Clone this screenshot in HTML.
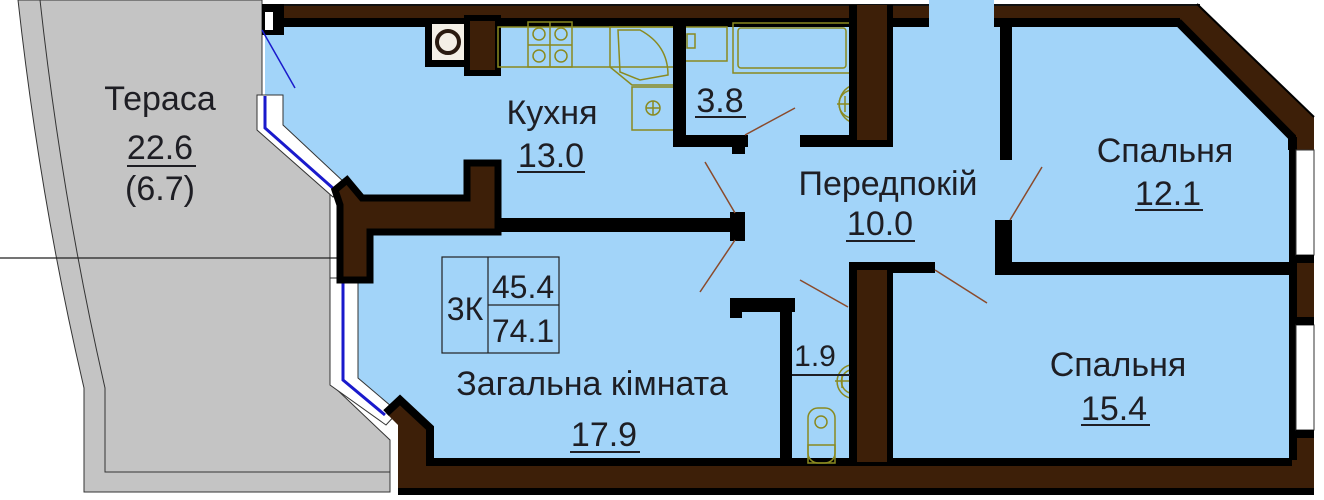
<!DOCTYPE html>
<html><head><meta charset="utf-8"><style>
html,body{margin:0;padding:0;background:#fff;width:1324px;height:500px;overflow:hidden}
svg{display:block}
text{font-family:"Liberation Sans",sans-serif;fill:#1e1e24}
</style></head><body>
<svg width="1324" height="500" viewBox="0 0 1324 500" xmlns="http://www.w3.org/2000/svg">
<path d="M18,0 L262,0 L262,130 L330,192 L330,383 L390,440 L390,492 L84,492 L84,388 Q40,200 18,0 Z" fill="#c4c4c4" stroke="#333" stroke-width="1"/>
<path d="M40,0 Q62,200 105,388 L105,472 L390,472" fill="none" stroke="#333" stroke-width="1"/>
<line x1="0" y1="258" x2="442" y2="258" stroke="#222" stroke-width="1.2"/>
<polygon points="265,20 1200,20 1295,137 1295,465 400,465 400,412 345,372 345,280 342,205 333,192 265,132" fill="#a2d4f9"/>
<rect x="929" y="0" width="65" height="25" fill="#a2d4f9"/>
<polygon points="257,95 283,95 283,125 345,183 333,197 257,130" fill="#fff" stroke="#333" stroke-width="1"/>
<polyline points="265,96 265,128 335,190" fill="none" stroke="#1a1acc" stroke-width="3"/>
<polygon points="330,278 358,278 358,378 398,412 386,425 330,385" fill="#fff" stroke="#333" stroke-width="1"/>
<polyline points="343,280 343,380 385,415" fill="none" stroke="#1a1acc" stroke-width="3"/>
<rect x="262" y="4" width="667" height="16" fill="#3d1f08"/>
<rect x="994" y="4" width="206" height="16" fill="#3d1f08"/>
<line x1="262" y1="5" x2="929" y2="5" stroke="#111" stroke-width="2"/>
<line x1="994" y1="5" x2="1200" y2="5" stroke="#111" stroke-width="2"/>
<rect x="265" y="18" width="664" height="9" fill="#000"/>
<rect x="994" y="18" width="190" height="9" fill="#000"/>
<polygon points="1197,4 1314,117 1314,140 1289,140 1289,137 1180,27 1180,18 1197,18" fill="#3d1f08"/>
<polyline points="1178,22 1292,137 1292,150" fill="none" stroke="#000" stroke-width="8"/>
<line x1="1197" y1="4" x2="1314" y2="117" stroke="#000" stroke-width="2"/>
<rect x="262" y="4" width="22" height="31" fill="#000"/>
<rect x="265" y="12" width="8" height="18" fill="#fff"/>
<rect x="1289" y="137" width="25" height="358" fill="#3d1f08"/>
<rect x="1289" y="137" width="8" height="358" fill="#000"/>
<rect x="1296" y="150" width="18" height="105" fill="#fff" stroke="#333" stroke-width="1"/>
<rect x="1296" y="325" width="18" height="105" fill="#fff" stroke="#333" stroke-width="1"/>
<rect x="1296" y="255" width="18" height="8" fill="#000"/>
<rect x="1296" y="317" width="18" height="8" fill="#000"/>
<rect x="1296" y="430" width="18" height="8" fill="#000"/>
<polygon points="398,400 386,413 398,425 398,495 1314,495 1314,460 429,460 429,427" fill="#3d1f08"/>
<polyline points="386,413 400,400 430,428 430,462 1292,462" fill="none" stroke="#000" stroke-width="8"/>
<rect x="398" y="488" width="916" height="7" fill="#000"/>
<polygon points="335,190 347,180 362,198 467,198 467,163 498,163 498,218 498,232 370,232 370,280 340,280 340,205" fill="#3d1f08" stroke="#000" stroke-width="7" stroke-linejoin="miter"/>
<rect x="497" y="218" width="245" height="14" fill="#000"/>
<rect x="730" y="212" width="15" height="29" fill="#000"/>
<rect x="425" y="20" width="45" height="47" fill="#000"/>
<rect x="432" y="24" width="32" height="36" fill="#f4efe6"/>
<circle cx="448" cy="42" r="11" fill="none" stroke="#2a1a10" stroke-width="4"/>
<rect x="467" y="18" width="31" height="55" fill="#3d1f08" stroke="#000" stroke-width="6"/>
<g fill="none" stroke="#8a8a20" stroke-width="1.5">
<rect x="498" y="27" width="178" height="40"/>
<rect x="528" y="22" width="44" height="45"/>
<line x1="550" y1="22" x2="550" y2="67"/>
<line x1="528" y1="45" x2="572" y2="45"/>
<circle cx="539" cy="34" r="6"/><circle cx="561" cy="34" r="6"/>
<circle cx="539" cy="56" r="6"/><circle cx="561" cy="56" r="6"/>
<path d="M618,30 L640,30 Q668,45 668,75 L640,80 L620,72 Z"/>
<polygon points="610,27 676,27 676,85 632,85 610,67"/>
<rect x="632" y="87" width="44" height="43"/>
<circle cx="653" cy="108" r="7"/>
<line x1="646" y1="108" x2="660" y2="108"/><line x1="653" y1="101" x2="653" y2="115"/>
<rect x="685" y="27" width="42" height="34"/>
<rect x="687" y="34" width="8" height="14"/>
<rect x="733" y="23" width="120" height="50"/>
<rect x="738" y="28" width="108" height="40" rx="3"/>
<path d="M853,85 A20,20 0 0 0 853,123"/><path d="M853,90 A14,14 0 0 0 853,118"/>
<line x1="837" y1="104" x2="853" y2="104"/><line x1="845" y1="96" x2="845" y2="112"/>
<path d="M850,365 A17,17 0 0 0 850,398"/><path d="M850,370 A12,12 0 0 0 850,393"/>
<line x1="835" y1="381" x2="850" y2="381"/><line x1="842" y1="374" x2="842" y2="388"/>
<rect x="808" y="408" width="27" height="55" rx="10"/>
<rect x="808" y="445" width="27" height="18"/>
<circle cx="821" cy="422" r="6"/>
</g>
<rect x="673" y="22" width="13" height="125" fill="#000"/>
<rect x="673" y="135" width="75" height="12" fill="#000"/>
<rect x="732" y="140" width="13" height="14" fill="#000"/>
<rect x="800" y="135" width="93" height="12" fill="#000"/>
<rect x="849" y="5" width="44" height="142" fill="#000"/>
<rect x="857" y="5" width="30" height="135" fill="#3d1f08"/>
<rect x="1000" y="20" width="12" height="140" fill="#000"/>
<rect x="995" y="220" width="17" height="55" fill="#000"/>
<rect x="995" y="262" width="300" height="13" fill="#000"/>
<rect x="849" y="262" width="44" height="200" fill="#000"/>
<rect x="857" y="270" width="30" height="192" fill="#3d1f08"/>
<rect x="887" y="262" width="48" height="11" fill="#000"/>
<rect x="730" y="298" width="65" height="14" fill="#000"/>
<rect x="730" y="298" width="12" height="20" fill="#000"/>
<rect x="780" y="298" width="12" height="164" fill="#000"/>
<g stroke="#8b4a2b" stroke-width="1.5">
<line x1="745" y1="135" x2="795" y2="108"/>
<line x1="705" y1="162" x2="735" y2="213"/>
<line x1="735" y1="240" x2="700" y2="292"/>
<line x1="800" y1="280" x2="848" y2="307"/>
<line x1="935" y1="270" x2="987" y2="303"/>
<line x1="1010" y1="220" x2="1042" y2="167"/>
</g>
<line x1="262" y1="30" x2="295" y2="88" stroke="#1a1acc" stroke-width="1.5"/>
<g fill="none" stroke="#222" stroke-width="1.2">
<rect x="442" y="257" width="117" height="96"/>
<line x1="488" y1="257" x2="488" y2="353"/>
<line x1="488" y1="305" x2="559" y2="305"/>
</g>
<text x="465" y="320" font-size="32" text-anchor="middle">3К</text>
<text x="523" y="298" font-size="32" text-anchor="middle">45.4</text>
<text x="523" y="342" font-size="32" text-anchor="middle">74.1</text>
<g font-size="34" text-anchor="middle">
<text x="160" y="110">Тераса</text>
<text x="160" y="159">22.6</text>
<text x="160" y="200">(6.7)</text>
<text x="552" y="124">Кухня</text>
<text x="551" y="167">13.0</text>
<text x="720" y="112">3.8</text>
<text x="888" y="195">Передпокій</text>
<text x="880" y="235">10.0</text>
<text x="1165" y="162">Спальня</text>
<text x="1168" y="205">12.1</text>
<text x="1118" y="376">Спальня</text>
<text x="1114" y="420">15.4</text>
<text x="592" y="395">Загальна кімната</text>
<text x="604" y="446">17.9</text>
<text x="815" y="366" font-size="30">1.9</text>
</g>
<g stroke="#1e1e24" stroke-width="2">
<line x1="127" y1="166" x2="196" y2="166"/>
<line x1="517" y1="172" x2="585" y2="172"/>
<line x1="695" y1="117" x2="746" y2="117"/>
<line x1="846" y1="241" x2="915" y2="241"/>
<line x1="1135" y1="210" x2="1203" y2="210"/>
<line x1="1081" y1="425" x2="1150" y2="425"/>
<line x1="570" y1="452" x2="640" y2="452"/>
<line x1="792" y1="375" x2="850" y2="375"/>
</g>
</svg>
</body></html>
